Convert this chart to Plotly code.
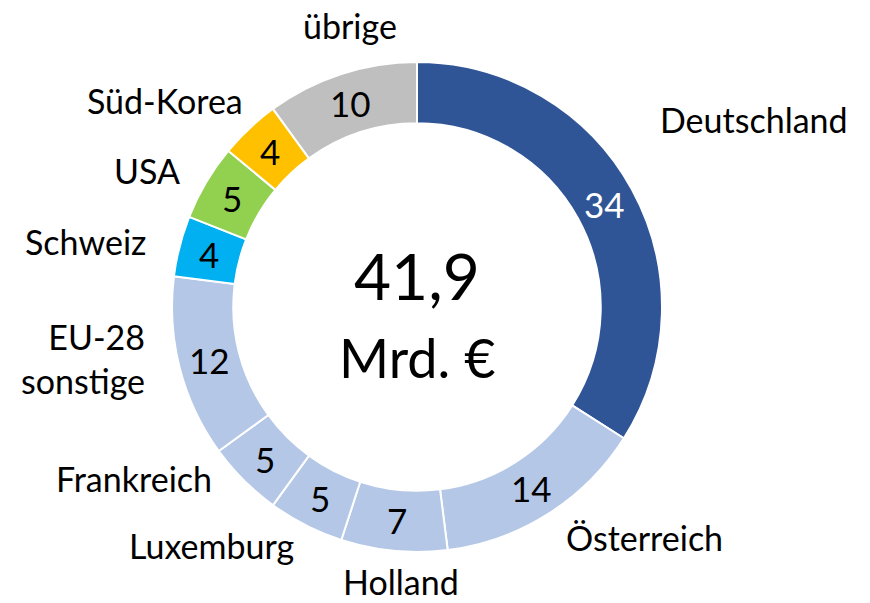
import math
import plotly.graph_objects as go

# ---- data ----
countries = ["Deutschland", "Österreich", "Holland", "Luxemburg", "Frankreich",
             "EU-28<br>sonstige", "Schweiz", "USA", "Süd-Korea", "übrige"]
values = [34, 14, 7, 5, 5, 12, 4, 5, 4, 10]
total_text = "41,9"
unit_text = "Mrd. €"

# ---- styles ----
colors = ["#2F5597", "#B4C7E7", "#B4C7E7", "#B4C7E7", "#B4C7E7",
          "#B4C7E7", "#00B0F0", "#92D050", "#FFC000", "#BFBFBF"]
text_colors = ["white"] + ["black"] * 9
FONT = "Lato, Calibri, Carlito, sans-serif"
W, H = 870, 603
cx, cy, R = 417, 307, 245
HOLE = 0.75

# label placement (pixel centres in the canvas, layout only)
label_pos = {
    "Deutschland": (754, 120, "center"),
    "Österreich": (644, 537, "center"),
    "Holland": (401, 581, "center"),
    "Luxemburg": (211, 545, "center"),
    "Frankreich": (134, 478, "center"),
    "EU-28<br>sonstige": (147, 358, "right"),
    "Schweiz": (85, 242, "center"),
    "USA": (147, 171, "center"),
    "Süd-Korea": (165, 100, "center"),
    "übrige": (350, 25, "center"),
}

fig = go.Figure(go.Pie(
    labels=countries,
    values=values,
    textinfo="none",
    hole=HOLE,
    sort=False,
    direction="clockwise",
    rotation=0,
    marker=dict(colors=colors, line=dict(color="white", width=2)),
    domain=dict(x=[(cx - R) / W, (cx + R) / W],
                y=[1 - (cy + R) / H, 1 - (cy - R) / H]),
    showlegend=False,
    hoverinfo="label+value",
))

annotations = []

# value labels: placed at each slice's mid-angle, in the middle of the ring
total = sum(values)
cum = 0
r_text = R * (1 + HOLE) / 2
for v, tc in zip(values, text_colors):
    ang = 2 * math.pi * (cum + v / 2) / total
    cum += v
    px = cx + r_text * math.sin(ang)
    py = cy - r_text * math.cos(ang)
    annotations.append(dict(
        x=px / W, y=1 - py / H, xref="paper", yref="paper",
        text=str(v), showarrow=False, xanchor="center", yanchor="middle",
        font=dict(family=FONT, size=35, color=tc),
    ))

for name in countries:
    px, py, anchor = label_pos[name]
    annotations.append(dict(
        x=px / W, y=1 - py / H, xref="paper", yref="paper",
        text=name, showarrow=False, xanchor=anchor, yanchor="middle",
        align="right" if anchor == "right" else "center",
        font=dict(family=FONT, size=34, color="black"),
    ))

annotations.append(dict(x=cx / W, y=1 - 275 / H, xref="paper", yref="paper",
                        text=total_text, showarrow=False, xanchor="center", yanchor="middle",
                        font=dict(family=FONT, size=64, color="black")))
annotations.append(dict(x=cx / W, y=1 - 357 / H, xref="paper", yref="paper",
                        text=unit_text, showarrow=False, xanchor="center", yanchor="middle",
                        font=dict(family=FONT, size=54, color="black")))

fig.update_layout(
    width=W, height=H,
    margin=dict(l=0, r=0, t=0, b=0),
    paper_bgcolor="white",
    plot_bgcolor="white",
    annotations=annotations,
)

fig.write_html("out.html",
               config={"displayModeBar": False},
               post_script="document.body.style.margin='0px';document.body.style.overflow='hidden';")
